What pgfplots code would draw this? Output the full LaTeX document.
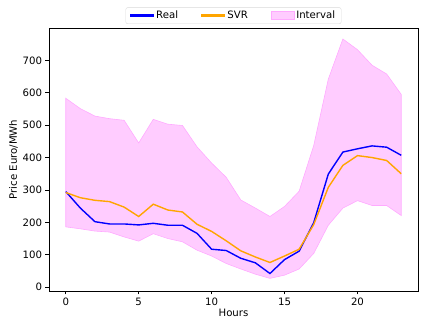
\documentclass[border=0pt]{standalone}
\usepackage{pgfplots}
\pgfplotsset{compat=1.18}
\usepgfplotslibrary{fillbetween}
\usepackage{fontspec}
\setmainfont{DejaVu Sans}
\definecolor{svrorange}{HTML}{FFA500}
\definecolor{intfill}{HTML}{FFCCFF}
\definecolor{intedge}{HTML}{FFAAFF}
\begin{document}
\begin{tikzpicture}
\begin{axis}[
  at={(0,0)}, anchor=south west,
  scale only axis, width=369bp, height=263bp,
  xmin=-1.15, xmax=24.15, ymin=-12, ymax=800,
  xtick={0,5,10,15,20}, ytick={0,100,...,700},
  tick align=outside, xtick pos=bottom, ytick pos=left,
  major tick length=3.5bp,
  tick style={black, line width=0.6pt},
  axis line style={black, line width=0.6pt},
  font=\fontsize{10.2}{12}\selectfont,
  ticklabel style={font=\fontsize{10.2}{12}\selectfont},
  /pgf/number format/assume math mode=true,
  xlabel={Hours}, ylabel={Price Euro/MWh},
  xlabel style={yshift=3bp},
  ylabel style={yshift=-2bp},
  legend columns=3,
  legend style={at={(0.5,1)}, anchor=south, yshift=4bp, draw=black!15, rounded corners=2pt,
    font=\fontsize{10.2}{12}\selectfont, /tikz/every even column/.append style={column sep=21bp},
    inner xsep=4bp, inner ysep=1.5bp},
  legend cell align=left,
]
\addplot[name path=upper, draw=none, forget plot] coordinates {
(0,583) (1,551) (2,528) (3,520) (4,515) (5,445) (6,518) (7,503) (8,499) (9,433) (10,383) (11,339) (12,269) (13,244) (14,218) (15,249) (16,296) (17,437) (18,642) (19,766) (20,733) (21,685) (22,658) (23,595)};
\addplot[name path=lower, draw=none, forget plot] coordinates {
(0,186) (1,180) (2,173) (3,170) (4,155) (5,142) (6,165) (7,150) (8,140) (9,114) (10,96) (11,73) (12,56) (13,40) (14,27) (15,37) (16,56) (17,104) (18,191) (19,244) (20,267) (21,252) (22,252) (23,221)};
\addplot[blue, line width=1.4pt,
  legend image code/.code={\fill[blue, rounded corners=0pt] (0bp,-0.6bp) rectangle (23bp,0.6bp);}] coordinates {
(0,295) (1,244) (2,202) (3,195) (4,195) (5,192) (6,197) (7,191) (8,191) (9,166) (10,117) (11,113) (12,89) (13,75) (14,42) (15,85) (16,111) (17,199) (18,349) (19,417) (20,427) (21,436) (22,432) (23,407)};
\addlegendentry{Real}
\addplot[svrorange, line width=1.4pt,
  legend image code/.code={\fill[svrorange, rounded corners=0pt] (0bp,-0.6bp) rectangle (23bp,0.6bp);}] coordinates {
(0,292) (1,276) (2,268) (3,264) (4,247) (5,218) (6,256) (7,238) (8,232) (9,194) (10,172) (11,143) (12,112) (13,93) (14,76) (15,96) (16,117) (17,193) (18,308) (19,376) (20,406) (21,400) (22,391) (23,350)};
\addlegendentry{SVR}
\addplot[fill=intfill, draw=intedge, line width=0.6pt,
  legend image code/.code={\path[fill=intfill, draw=intedge, line width=0.4pt, rounded corners=0pt] (0bp,-3.5bp) rectangle (23bp,4bp);}] fill between[of=upper and lower];
\addlegendentry{Interval}
\end{axis}
\pgfresetboundingbox
\path (-49bp,-37bp) rectangle (376bp,291bp);
\end{tikzpicture}
\end{document}
